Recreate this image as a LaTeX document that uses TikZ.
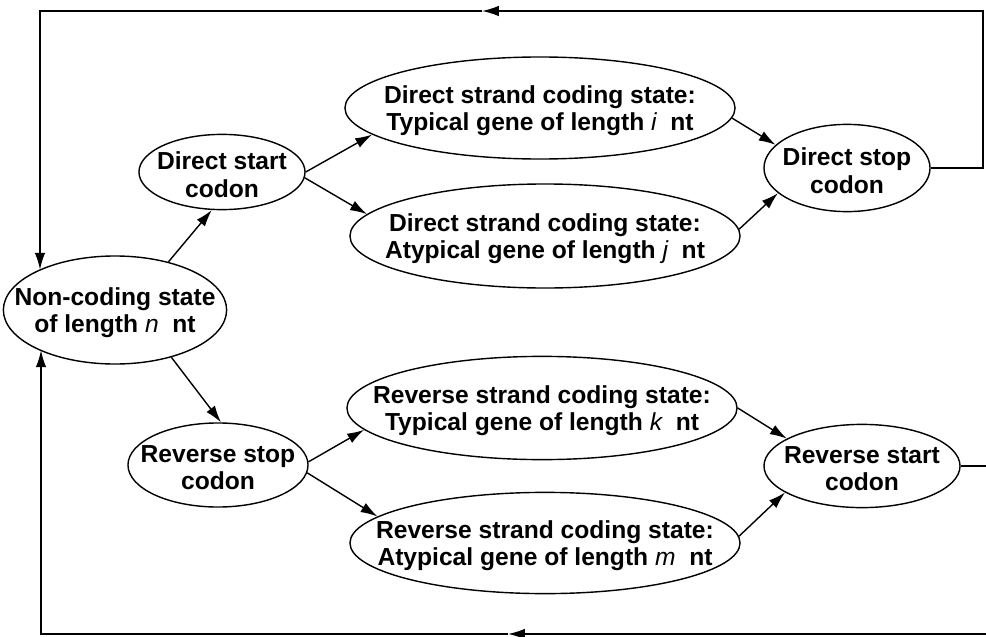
\documentclass[tikz,border=0pt]{standalone}
\usepackage{fontspec}
\setmainfont{Liberation Sans}
\usetikzlibrary{shapes.geometric,arrows.meta}

\newcommand{\lenvar}[1]{{\mdseries\itshape #1}}

\begin{document}
\begin{tikzpicture}[x=0.025cm, y=-0.025cm,
    stateoval/.style={ellipse, draw, line width=1pt, inner sep=0pt},
    statetext/.style={align=center, inner sep=0pt, yshift=-2pt, font=\fontsize{17.5}{19.5}\selectfont\bfseries},
    flow/.style={-{Latex[length=12pt, width=7.5pt]}, line width=1pt}]
    \useasboundingbox (0,0) rectangle (986,637);
    \clip (0,0) rectangle (986,637);

    % --- Non-coding state (left) ---
    \node[stateoval, minimum width=5.58cm, minimum height=2.7cm,
        label={[statetext]center:Non-coding state\\of length \lenvar{n}\ \ nt}] (noncoding) at (115,310) {};

    % --- Direct strand (top) ---
    \node[stateoval, minimum width=4.15cm, minimum height=1.88cm,
        label={[statetext]center:Direct start\\codon}] (dstart) at (222,172) {};
    \node[stateoval, minimum width=9.75cm, minimum height=2.55cm,
        label={[statetext]center:Direct strand coding state:\\Typical gene of length \lenvar{i}\ \ nt}] (dtyp) at (540,108) {};
    \node[stateoval, minimum width=9.75cm, minimum height=2.6cm,
        label={[statetext]center:Direct strand coding state:\\Atypical gene of length \lenvar{j}\ \ nt}] (datyp) at (545,236) {};
    \node[stateoval, minimum width=4.15cm, minimum height=2.18cm,
        label={[statetext]center:Direct stop\\codon}] (dstop) at (847,168) {};

    % --- Reverse strand (bottom) ---
    \node[stateoval, minimum width=4.5cm, minimum height=2.1cm,
        label={[statetext]center:Reverse stop\\codon}] (rstop) at (218,465) {};
    \node[stateoval, minimum width=9.75cm, minimum height=2.58cm,
        label={[statetext]center:Reverse strand coding state:\\Typical gene of length \lenvar{k}\ \ nt}] (rtyp) at (542,408) {};
    \node[stateoval, minimum width=9.75cm, minimum height=2.53cm,
        label={[statetext]center:Reverse strand coding state:\\Atypical gene of length \lenvar{m}\ \ nt}] (ratyp) at (545,543) {};
    \node[stateoval, minimum width=4.9cm, minimum height=2.08cm,
        label={[statetext]center:Reverse start\\codon}] (rstart) at (862,466) {};

    % Transitions
    \draw[flow] (noncoding.42) -- (dstart.255);
    \draw[flow] (dstart.east) -- (dtyp.189);
    \draw[flow] (dstart.-4) -- (datyp.173);
    \draw[flow] (dtyp.-3) -- (dstop.162);
    \draw[flow] (datyp.2) -- (dstop.200);

    \draw[flow] (noncoding.-40) -- (rstop.86);
    \draw[flow] (rstop.2) -- (rtyp.187);
    \draw[flow] (rstop.-5) -- (ratyp.171);
    \draw[flow] (rtyp.east) -- (rstart.160);
    \draw[flow] (ratyp.2) -- (rstart.199);

    % Feedback loops
    \coordinate (topright) at (983,11);
    \coordinate (topmid) at (482,11);
    \coordinate (topleft) at (40,11);
    \draw[flow] (dstop.east) -| (topright) -- (topmid);
    \draw[flow] (topmid) -- (topleft) -- (topleft |- noncoding.152);

    \coordinate (botright) at (995,634);
    \coordinate (botmid) at (508,634);
    \coordinate (botleft) at (41,634);
    \draw[flow] (rstart.east) -| (botright) -- (botmid);
    \draw[flow] (botmid) -- (botleft) -- (botleft |- noncoding.208);

\end{tikzpicture}
\end{document}
